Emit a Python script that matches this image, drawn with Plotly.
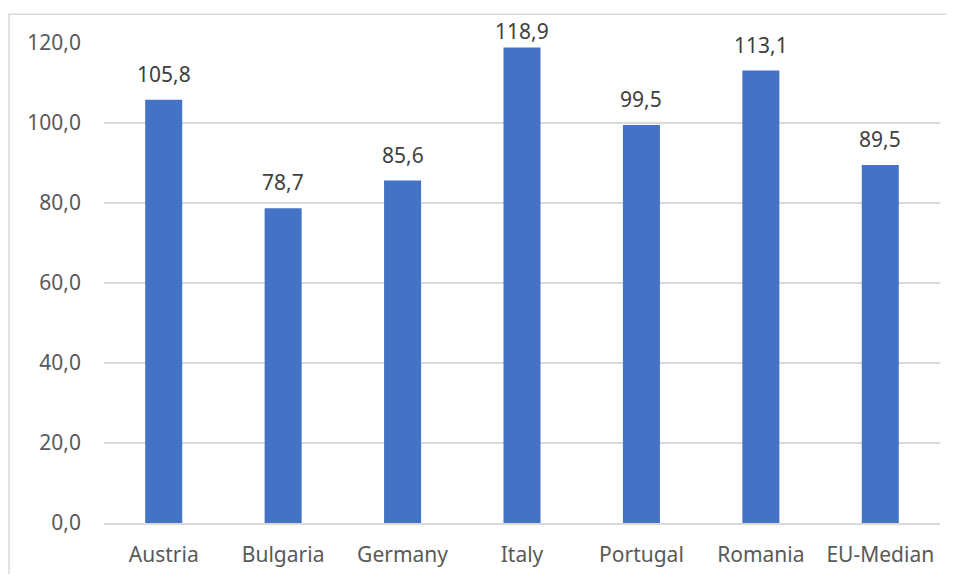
import plotly.graph_objects as go

countries = ["Austria", "Bulgaria", "Germany", "Italy", "Portugal", "Romania", "EU-Median"]
values = [105.8, 78.7, 85.6, 118.9, 99.5, 113.1, 89.5]
y_ticks = [0, 20, 40, 60, 80, 100, 120]

FONT = "Noto Sans, Open Sans, Arial, sans-serif"
FS = 21

fig = go.Figure()
fig.add_trace(
    go.Bar(
        x=countries,
        y=values,
        marker={"color": "#4472c4", "line": {"width": 0}},
        width=0.31,
        hoverinfo="skip",
        showlegend=False,
    )
)

for country, value in zip(countries, values):
    # like Excel, labels near the top of the axis get pushed down onto the bar
    shift = 10 if value < 115 else 0
    fig.add_annotation(
        x=country,
        y=value,
        text=f"{value:.1f}".replace(".", ","),
        showarrow=False,
        xanchor="center",
        yanchor="bottom",
        yshift=shift,
        font={"family": FONT, "size": FS, "color": "#404040"},
    )

# chart frame (Excel style), partly cut off at right/bottom
fig.add_shape(
    type="rect",
    xref="paper",
    yref="paper",
    x0=-0.1136,
    x1=1.5,
    y0=-0.5,
    y1=1.06,
    line={"color": "#d9d9d9", "width": 1.5},
    layer="below",
)

# page body has an 8px margin, so the figure is 16px smaller than the window
fig.update_layout(
    width=938,
    height=566,
    paper_bgcolor="white",
    plot_bgcolor="white",
    margin={"l": 96, "r": 6, "t": 35, "b": 43},
    separators=",.",
    font={"family": FONT, "size": FS, "color": "#595959"},
    xaxis={
        "showgrid": False,
        "showline": True,
        "linecolor": "#d9d9d9",
        "linewidth": 1.5,
        "ticks": "",
        "ticklabelstandoff": 12,
        "tickfont": {"family": FONT, "size": FS, "color": "#595959"},
        "fixedrange": True,
    },
    yaxis={
        "range": [0, 120],
        "tickvals": y_ticks,
        "tickformat": ".1f",
        "showgrid": True,
        "gridcolor": "#d9d9d9",
        "gridwidth": 1.5,
        "zeroline": False,
        "showline": False,
        "ticks": "",
        "ticklabelstandoff": 22,
        "tickfont": {"family": FONT, "size": FS, "color": "#595959"},
        "fixedrange": True,
    },
)

fig.write_html("out.html")
